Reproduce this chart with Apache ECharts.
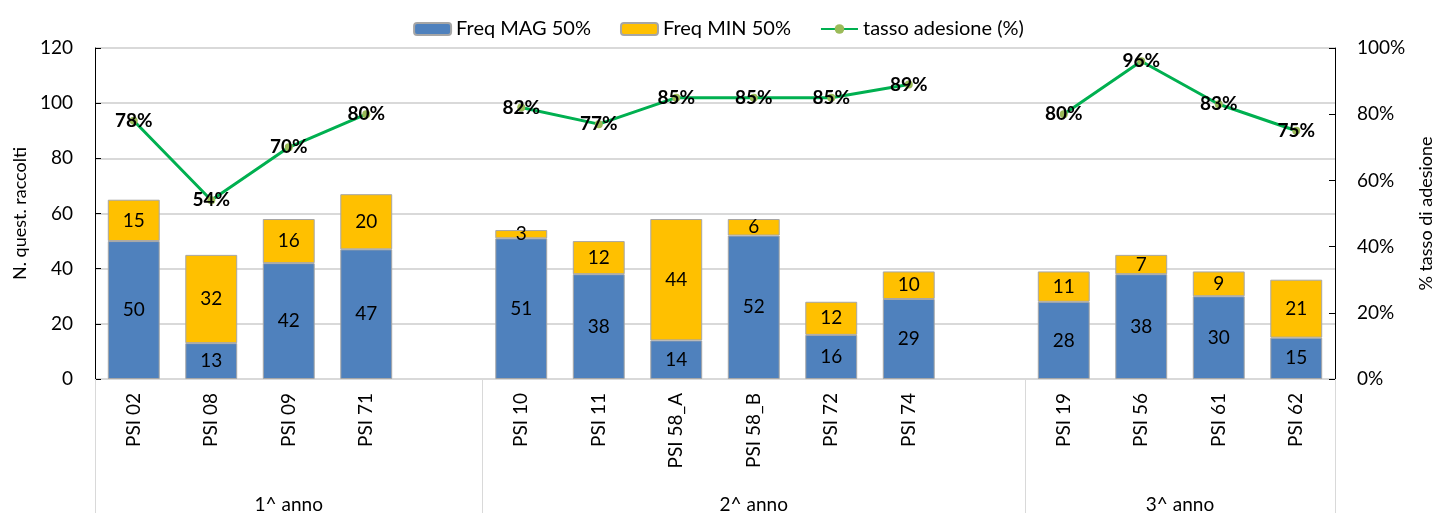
<!DOCTYPE html>
<html>
<head>
<meta charset="utf-8">
<script src="https://cdn.jsdelivr.net/npm/echarts@6/dist/echarts.min.js"></script>
<style>
	html, body { margin: 0; padding: 0; background: #fff; }
	#chart { width: 1437px; height: 513px; }
</style>
</head>
<body>
<div id="chart"></div>
<script>
// categorie (le stringhe vuote fanno da spazio tra gli anni)
var categories = ['PSI 02', 'PSI 08', 'PSI 09', 'PSI 71', ' ',
	'PSI 10', 'PSI 11', 'PSI 58_A', 'PSI 58_B', 'PSI 72', 'PSI 74', '  ',
	'PSI 19', 'PSI 56', 'PSI 61', 'PSI 62'];
var freqMag = [50, 13, 42, 47, null, 51, 38, 14, 52, 16, 29, null, 28, 38, 30, 15];
var freqMin = [15, 32, 16, 20, null, 3, 12, 44, 6, 12, 10, null, 11, 7, 9, 21];
var tasso = [0.78, 0.54, 0.70, 0.80, null, 0.82, 0.77, 0.85, 0.85, 0.85, 0.89, null, 0.80, 0.96, 0.83, 0.75];

// secondo livello dell'asse: anni
var groups = ['1^ anno', '2^ anno', '3^ anno'];
var groupSizes = [5, 7, 4];

(function() {
	var myChart = echarts.init(document.getElementById('chart'));
	var font = 'Lato, "Open Sans", sans-serif';

	// asse a mezze categorie per etichette e separatori degli anni
	var halfCats = [];
	var labelAt = {};
	var sepAt = { 0: true };
	var pos = 0;
	for (var i = 0; i < groups.length; i++) {
		labelAt[pos + groupSizes[i]] = groups[i];
		pos += groupSizes[i] * 2;
		sepAt[pos] = true;
	}
	for (var k = 0; k <= categories.length * 2; k++) {
		halfCats.push(labelAt[k] || '');
	}

	var option = {
		animation: false,
		textStyle: { fontFamily: font },
		legend: {
			top: 14,
			left: 'center',
			itemWidth: 37,
			itemHeight: 12,
			itemGap: 29,
			textStyle: { fontSize: 20, color: '#000', fontFamily: font },
			data: ['Freq MAG 50%', 'Freq MIN 50%', 'tasso adesione (%)']
		},
		grid: {
			left: 95,
			right: 102,
			top: 48,
			bottom: 134,
			outerBoundsMode: 'none'
		},
		xAxis: [{
			type: 'category',
			data: categories,
			axisLine: { lineStyle: { color: '#d9d9d9', width: 1 } },
			axisTick: { show: false },
			axisLabel: {
				rotate: 90,
				interval: 0,
				margin: 14,
				color: '#000',
				fontSize: 19,
				fontFamily: font
			}
		}, {
			type: 'category',
			data: halfCats,
			position: 'bottom',
			boundaryGap: false,
			axisLine: { show: false },
			axisTick: {
				show: true,
				length: 134,
				interval: function(index) { return !!sepAt[index]; },
				lineStyle: { color: '#d9d9d9', width: 1 }
			},
			axisLabel: {
				interval: function(index) { return !!labelAt[index]; },
				margin: 116,
				color: '#000',
				fontSize: 19,
				fontFamily: font
			}
		}],
		yAxis: [{
			type: 'value',
			min: 0,
			max: 120,
			interval: 20,
			name: 'N. quest. raccolti',
			nameLocation: 'middle',
			nameGap: 60,
			nameTextStyle: { fontSize: 18, color: '#000', fontFamily: font },
			axisLine: { show: true, lineStyle: { color: '#000' } },
			axisTick: { show: true, inside: true, length: 6, lineStyle: { color: '#000' } },
			axisLabel: { margin: 22, color: '#000', fontSize: 19, fontFamily: font },
			splitLine: { lineStyle: { color: '#d9d9d9', width: 2 } }
		}, {
			type: 'value',
			min: 0,
			max: 1,
			interval: 0.2,
			name: '% tasso di adesione',
			nameLocation: 'middle',
			nameGap: 82,
			nameTextStyle: { fontSize: 18, color: '#000', fontFamily: font },
			axisLine: { show: true, lineStyle: { color: '#000' } },
			axisTick: { show: true, inside: true, length: 6, lineStyle: { color: '#000' } },
			axisLabel: {
				margin: 22,
				color: '#000',
				fontSize: 19,
				fontFamily: font,
				formatter: function(v) { return Math.round(v * 100) + '%'; }
			},
			splitLine: { show: false }
		}],
		series: [{
			name: 'Freq MAG 50%',
			type: 'bar',
			stack: 'freq',
			barWidth: '67%',
			itemStyle: { color: '#4f81bd', borderColor: '#a6a6a6', borderWidth: 1 },
			label: { show: true, position: 'inside', color: '#000', fontSize: 19, fontFamily: font },
			data: freqMag
		}, {
			name: 'Freq MIN 50%',
			type: 'bar',
			stack: 'freq',
			barWidth: '67%',
			itemStyle: { color: '#ffc000', borderColor: '#a6a6a6', borderWidth: 1 },
			label: { show: true, position: 'inside', color: '#000', fontSize: 19, fontFamily: font },
			data: freqMin
		}, {
			name: 'tasso adesione (%)',
			type: 'line',
			yAxisIndex: 1,
			connectNulls: false,
			symbol: 'circle',
			symbolSize: 8,
			itemStyle: { color: '#9bbb59' },
			lineStyle: { color: '#00b050', width: 3 },
			label: {
				show: true,
				position: 'inside',
				color: '#000',
				fontSize: 19,
				fontWeight: 'bold',
				fontFamily: font,
				formatter: function(p) { return Math.round(p.value * 100) + '%'; }
			},
			data: tasso
		}]
	};

	myChart.setOption(option);
})();
</script>
</body>
</html>
